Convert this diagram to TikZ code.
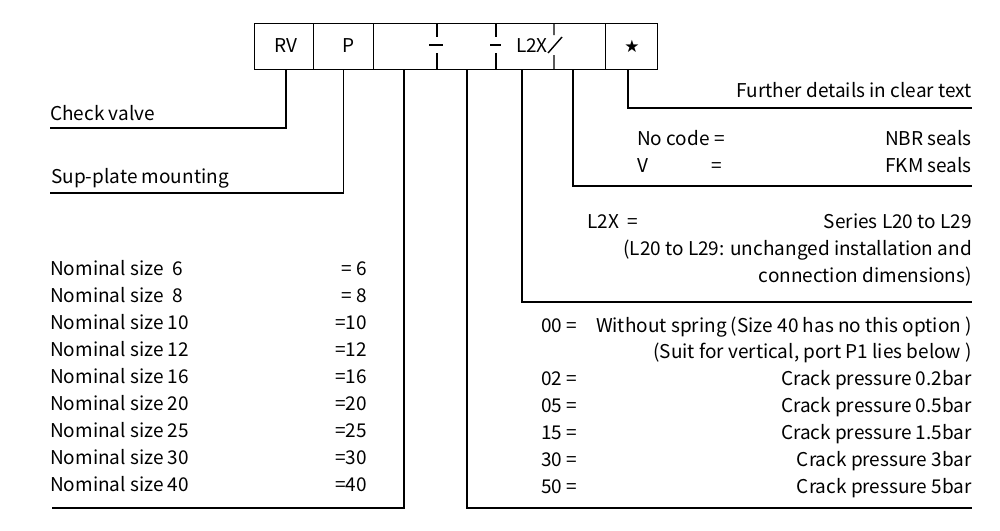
\documentclass[tikz,border=0pt]{standalone}
\usepackage{fontspec}
\setmainfont{Noto Sans CJK SC}
\newfontfamily\symfont{DejaVu Sans}

\tikzset{
    cell/.style={draw, line width=1.4pt, minimum height=46pt, inner sep=0pt, anchor=north west},
    txt/.style={inner sep=0pt, anchor=base west, font=\fontsize{19}{23}\selectfont},
    rtxt/.style={txt, anchor=base east},
    lead/.style={line width=1.4pt},
}

\begin{document}
\begin{tikzpicture}[x=1pt, y=-1pt]
    \path[fill=white, use as bounding box] (0,0) rectangle (1000,530);

    % Type code boxes
    \node[cell, minimum width=59pt] (rvcell) at (254,23) {};
    \node[cell, minimum width=60pt] (pcell) at (313,23) {};
    \node[cell, minimum width=232pt] (codecell) at (373,23) {};
    \node[cell, minimum width=52pt] (starcell) at (605,23) {};
    \node[txt, anchor=center] (rv) at (286,46) {RV};
    \node[txt, anchor=center] (p) at (349,46) {P};
    \node[txt, anchor=center] (ltwox) at (532,46) {L2X};
    \node[inner sep=0pt, font=\symfont\fontsize{17}{17}\selectfont] (star) at (632,46) {★};
    % separators inside the code box
    \draw[lead] (437,23) -- (437,37) (429,45) -- (443,45) (437,53) -- (437,69);
    \draw[lead] (496,23) -- (496,37) (490,45) -- (501,45) (496,53) -- (496,69);
    \draw[lead] (554,23) -- (554,35) (548,53) -- (562,37) (554,55) -- (554,69);

    % Left hand side
    \node[txt] (check) at (50,120) {Check valve};
    \node[txt] (supplate) at (51,183) {Sup-plate mounting};
    \foreach \sz/\cd [count=\i] in {Nominal size~~6/= 6, Nominal size~~8/= 8,
        Nominal size 10/=10, Nominal size 12/=12, Nominal size 16/=16,
        Nominal size 20/=20, Nominal size 25/=25, Nominal size 30/=30,
        Nominal size 40/=40}{
        \node[txt] (size\i) at (50,248+27*\i) {\sz};
        \node[rtxt] (sizecode\i) at (367,248+27*\i) {\cd};
    }

    % Right hand side
    \node[rtxt] (further) at (972,97) {Further details in clear text};
    \node[txt] (nocode) at (637,145) {No code =};
    \node[rtxt] (nbr) at (972,145) {NBR seals};
    \node[txt] (vcode) at (637,172) {V};
    \node[txt] (veq) at (711,172) {=};
    \node[rtxt] (fkm) at (972,172) {FKM seals};
    \node[txt] (series) at (587,228) {L2X~~=};
    \node[rtxt] (seriestxt) at (972,228) {Series L20 to L29};
    \node[rtxt] (seriesa) at (972,255) {(L20 to L29: unchanged installation and};
    \node[rtxt] (seriesb) at (972,282) {connection dimensions)};
    \node[txt] (sp00) at (541,332) {00 =};
    \node[rtxt] (sp00txt) at (972,332) {Without spring (Size 40 has no this option )};
    \node[rtxt] (sp00note) at (972,358) {(Suit for vertical, port P1 lies below )};
    \foreach \cd/\pr [count=\i] in {02/0.2, 05/0.5, 15/1.5, 30/3, 50/5}{
        \node[txt] (sp\cd) at (541,358+27*\i) {\cd\ =};
        \node[rtxt] (sp\cd txt) at (972,358+27*\i) {Crack pressure \pr bar};
    }

    % Leader lines
    \coordinate (checkend) at (50,128);
    \coordinate (supend) at (50,193);
    \coordinate (sizeend) at (52,508);
    \coordinate (springend) at (972,508);
    \coordinate (seriesend) at (972,302);
    \coordinate (sealend) at (972,186);
    \coordinate (furtherend) at (972,108);
    \draw[lead] (rvcell.south west -| 286,0) |- (checkend);
    \draw[lead] (pcell.south) |- (supend);
    \draw[lead] (codecell.south west -| 404,0) |- (sizeend);
    \draw[lead] (codecell.south west -| 467,0) |- (springend);
    \draw[lead] (codecell.south west -| 522,0) |- (seriesend);
    \draw[lead] (codecell.south west -| 573,0) |- (sealend);
    \draw[lead] (starcell.south west -| 628,0) |- (furtherend);
\end{tikzpicture}
\end{document}
